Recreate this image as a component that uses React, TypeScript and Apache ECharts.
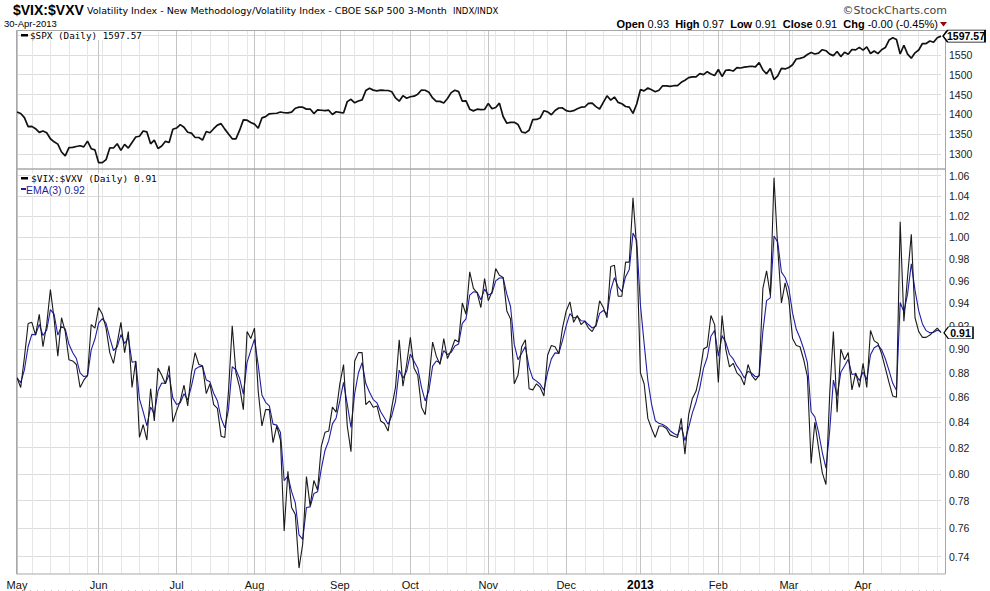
import { useEffect, useRef } from "react";
import * as echarts from "echarts";

// ---------- calendar ----------
const HOLIDAYS = [
  "2012-05-28", "2012-07-04", "2012-09-03", "2012-10-29", "2012-10-30", "2012-11-22",
  "2012-12-25", "2013-01-01", "2013-01-21", "2013-02-18", "2013-03-29",
];
const MONTH_LABELS = ["2013", "Feb", "Mar", "Apr", "May", "Jun", "Jul", "Aug", "Sep", "Oct", "Nov", "Dec"];

// ---------- $SPX daily close ----------
const spxMay = [1405.8, 1402.3, 1391.6, 1369.1, 1369.6, 1363.7, 1354.6, 1358.0, 1353.4, 1338.4, 1330.7, 1324.8, 1304.9, 1295.2, 1316.0, 1316.6, 1318.9, 1320.7, 1317.8, 1332.4, 1313.3, 1310.3];
const spxJun = [1278.0, 1278.2, 1285.5, 1315.1, 1315.0, 1325.7, 1308.9, 1324.2, 1314.9, 1329.1, 1342.8, 1344.8, 1358.0, 1355.7, 1325.5, 1335.0, 1313.7, 1320.0, 1331.9, 1329.0, 1362.2];
const spxJul = [1365.5, 1374.0, 1367.6, 1354.7, 1352.5, 1341.5, 1341.5, 1334.8, 1356.8, 1353.6, 1363.7, 1372.8, 1376.5, 1362.7, 1350.5, 1338.3, 1337.9, 1360.0, 1386.0, 1385.3, 1379.3];
const spxAug = [1375.3, 1365.0, 1391.0, 1394.2, 1401.4, 1402.2, 1402.8, 1405.9, 1404.1, 1403.9, 1405.5, 1415.5, 1418.2, 1418.1, 1413.2, 1413.5, 1402.1, 1411.1, 1410.4, 1409.3, 1410.5, 1399.5, 1406.6];
const spxSep = [1404.9, 1403.4, 1432.1, 1437.9, 1429.1, 1433.6, 1436.6, 1460.0, 1465.8, 1461.2, 1459.3, 1461.1, 1460.3, 1460.2, 1456.9, 1441.6, 1433.3, 1447.2, 1440.7];
const spxOct = [1444.5, 1445.8, 1451.0, 1461.4, 1460.9, 1455.9, 1441.5, 1432.6, 1432.8, 1428.6, 1440.1, 1454.9, 1460.9, 1457.3, 1433.2, 1433.8, 1413.1, 1408.8, 1413.0, 1411.9, 1412.2];
const spxNov = [1427.6, 1414.2, 1417.3, 1428.4, 1394.5, 1377.5, 1379.9, 1380.0, 1374.5, 1355.5, 1353.3, 1359.9, 1386.9, 1387.2, 1391.0, 1409.2, 1406.3, 1398.9, 1409.9, 1416.0, 1416.2];
const spxDec = [1409.5, 1407.1, 1409.3, 1413.9, 1418.1, 1418.6, 1427.8, 1428.5, 1419.5, 1413.6, 1430.4, 1446.8, 1435.8, 1443.7, 1430.2, 1426.7, 1419.8, 1418.1, 1402.4, 1426.2];
const spxJan = [1462.4, 1459.4, 1466.5, 1461.9, 1457.2, 1461.0, 1472.1, 1472.1, 1470.7, 1472.3, 1472.6, 1480.9, 1486.0, 1492.6, 1494.8, 1494.8, 1503.0, 1500.2, 1507.8, 1502.0, 1498.1];
const spxFeb = [1513.2, 1495.7, 1511.3, 1512.1, 1509.4, 1517.9, 1517.0, 1519.4, 1520.3, 1521.4, 1519.8, 1530.9, 1512.0, 1502.4, 1515.6, 1487.9, 1496.9, 1516.0, 1514.7];
const spxMar = [1518.2, 1525.2, 1539.8, 1541.5, 1544.3, 1551.2, 1556.2, 1552.5, 1554.5, 1563.2, 1560.7, 1552.1, 1548.3, 1558.7, 1545.8, 1556.9, 1551.7, 1563.8, 1562.9, 1569.2];
const spxApr = [1562.2, 1570.3, 1553.7, 1560.0, 1553.3, 1563.1, 1568.6, 1587.7, 1593.4, 1588.9, 1552.4, 1574.6, 1552.0, 1541.6, 1555.3, 1562.5, 1578.8, 1578.8, 1585.2, 1582.2, 1593.6, 1597.57];

// ---------- $VIX:$VXV daily ----------
const ratioMay = [0.876, 0.868, 0.893, 0.922, 0.923, 0.912, 0.930, 0.902, 0.921, 0.952, 0.926, 0.894, 0.927, 0.915, 0.891, 0.890, 0.887, 0.868, 0.874, 0.878, 0.921, 0.918];
const ratioJun = [0.936, 0.930, 0.918, 0.897, 0.888, 0.905, 0.923, 0.897, 0.915, 0.868, 0.890, 0.828, 0.838, 0.826, 0.867, 0.841, 0.884, 0.878, 0.871, 0.886, 0.840];
const ratioJul = [0.849, 0.857, 0.870, 0.853, 0.880, 0.897, 0.887, 0.886, 0.863, 0.871, 0.854, 0.851, 0.829, 0.828, 0.865, 0.920, 0.880, 0.868, 0.850, 0.915, 0.909];
const ratioAug = [0.918, 0.865, 0.837, 0.850, 0.850, 0.824, 0.837, 0.826, 0.758, 0.802, 0.775, 0.770, 0.732, 0.749, 0.798, 0.776, 0.795, 0.788, 0.821, 0.832, 0.833, 0.852, 0.848];
const ratioSep = [0.871, 0.887, 0.837, 0.817, 0.890, 0.897, 0.897, 0.854, 0.857, 0.852, 0.853, 0.841, 0.839, 0.833, 0.852, 0.868, 0.908, 0.869, 0.887];
const ratioOct = [0.910, 0.884, 0.878, 0.852, 0.846, 0.874, 0.906, 0.894, 0.887, 0.909, 0.892, 0.899, 0.908, 0.906, 0.940, 0.930, 0.968, 0.953, 0.949, 0.936, 0.962];
const ratioNov = [0.942, 0.950, 0.971, 0.965, 0.963, 0.933, 0.926, 0.871, 0.878, 0.902, 0.908, 0.867, 0.866, 0.871, 0.868, 0.861, 0.895, 0.903, 0.902, 0.896, 0.918];
const ratioDec = [0.933, 0.941, 0.923, 0.929, 0.921, 0.924, 0.918, 0.915, 0.921, 0.942, 0.936, 0.927, 0.973, 0.974, 0.946, 0.946, 0.977, 0.977, 1.038, 0.990];
const ratioJan = [0.880, 0.871, 0.843, 0.835, 0.828, 0.837, 0.837, 0.835, 0.830, 0.829, 0.828, 0.843, 0.815, 0.846, 0.859, 0.865, 0.879, 0.900, 0.902, 0.929, 0.921];
const ratioFeb = [0.872, 0.929, 0.900, 0.885, 0.888, 0.880, 0.877, 0.870, 0.887, 0.878, 0.874, 0.878, 0.953, 0.969, 0.947, 1.058, 0.990, 0.940, 0.958];
const ratioMar = [0.943, 0.909, 0.903, 0.902, 0.891, 0.877, 0.808, 0.840, 0.820, 0.801, 0.792, 0.862, 0.915, 0.848, 0.900, 0.891, 0.897, 0.866, 0.880, 0.868];
const ratioApr = [0.888, 0.868, 0.916, 0.907, 0.905, 0.896, 0.884, 0.872, 0.861, 0.860, 1.015, 0.924, 0.964, 1.003, 0.927, 0.915, 0.910, 0.910, 0.912, 0.915, 0.918, 0.914];

const SPX = [...spxMay, ...spxJun, ...spxJul, ...spxAug, ...spxSep, ...spxOct, ...spxNov, ...spxDec, ...spxJan, ...spxFeb, ...spxMar, ...spxApr];
const RATIO = [...ratioMay, ...ratioJun, ...ratioJul, ...ratioAug, ...ratioSep, ...ratioOct, ...ratioNov, ...ratioDec, ...ratioJan, ...ratioFeb, ...ratioMar, ...ratioApr];

// ---------- axis ticks ----------
const SPX_TICKS = [1300, 1350, 1400, 1450, 1500, 1550, 1600];
const SPX_LABELS = [1300, 1350, 1400, 1450, 1500, 1550];
const RATIO_TICKS = [0.74, 0.76, 0.78, 0.8, 0.82, 0.84, 0.86, 0.88, 0.9, 0.92, 0.94, 0.96, 0.98, 1.0, 1.02, 1.04, 1.06];

const SANS = '"Liberation Sans", Arial, sans-serif';
const VERD = '"DejaVu Sans", Verdana, sans-serif';
const MONO = '"DejaVu Sans Mono", monospace';
const EMA_COLOR = "#1f1fa3";

function tradingDays(): string[] {
  const out: string[] = [];
  const d = new Date(Date.UTC(2012, 4, 1));
  const end = Date.UTC(2013, 3, 30);
  while (d.getTime() <= end) {
    const wd = d.getUTCDay();
    const s = d.toISOString().slice(0, 10);
    if (wd !== 0 && wd !== 6 && HOLIDAYS.indexOf(s) < 0) out.push(s);
    d.setUTCDate(d.getUTCDate() + 1);
  }
  return out;
}

function ema(values: number[], n: number): number[] {
  const k = 2 / (n + 1);
  const out: number[] = [];
  let prev = values[0];
  values.forEach((v, i) => {
    prev = i === 0 ? v : v * k + prev * (1 - k);
    out.push(+prev.toFixed(4));
  });
  return out;
}

export default function App() {
  const ref = useRef<HTMLDivElement>(null);

  useEffect(() => {
    if (!ref.current) return;
    const chart = echarts.init(ref.current, undefined, { renderer: "svg" });

    const DATES = tradingDays();
    const EMA3 = ema(RATIO, 3);
    const monthStart = new Set<number>();
    const weekStart = new Set<number>();
    DATES.forEach((s, i) => {
      const d = new Date(s + "T00:00:00Z");
      if (i === 0) {
        monthStart.add(i);
        weekStart.add(i);
        return;
      }
      const p = new Date(DATES[i - 1] + "T00:00:00Z");
      if (d.getUTCMonth() !== p.getUTCMonth()) monthStart.add(i);
      if (d.getUTCDay() <= p.getUTCDay() || d.getTime() - p.getTime() >= 7 * 86400000) weekStart.add(i);
    });
    const weekFn = (i: number) => weekStart.has(i);
    const monthFn = (i: number) => monthStart.has(i);

    const catAxis = (gridIndex: number, fn: any, color: string, position: string, labels: boolean) => ({
      type: "category",
      gridIndex,
      data: DATES,
      boundaryGap: false,
      position,
      axisLine: { show: false },
      axisTick: { show: false },
      axisLabel: labels
        ? {
            show: true,
            interval: monthFn,
            margin: 5,
            fontSize: 11,
            fontFamily: SANS,
            color: "#111",
            formatter: (v: string) => {
              const m = new Date(v + "T00:00:00Z").getUTCMonth();
              return m === 0 ? "{b|" + MONTH_LABELS[0] + "}" : MONTH_LABELS[m];
            },
            rich: { b: { fontWeight: "bold", fontSize: 12, fontFamily: SANS, color: "#000" } },
          }
        : { show: false },
      splitLine: { show: true, interval: fn, lineStyle: { color, width: 1 } },
    });

    const lastI = RATIO.length - 1;
    const lastSpx = SPX[SPX.length - 1];
    const lastRatio = RATIO[lastI];
    const lastEma = EMA3[lastI];

    const boxLabel = {
      show: true,
      position: "inside",
      offset: [2, 0],
      fontSize: 10.5,
      fontWeight: "bold",
      fontFamily: SANS,
      color: "#000",
      formatter: (p: any) => Number(p.value).toFixed(2),
    };

    const option: any = {
      animation: false,
      backgroundColor: "#fff",
      grid: [
        { left: 17, right: 49, top: 30, height: 139 },
        { left: 17, right: 49, top: 169, height: 405 },
      ],
      xAxis: [
        catAxis(0, weekFn, "#e6e6e6", "bottom", false),
        catAxis(0, monthFn, "#c4c4c4", "top", false),
        catAxis(1, weekFn, "#e6e6e6", "top", false),
        catAxis(1, monthFn, "#c4c4c4", "bottom", true),
      ],
      yAxis: [
        {
          type: "value",
          gridIndex: 0,
          position: "right",
          min: 1262,
          max: 1613,
          axisLine: { show: false },
          axisTick: { show: false, customValues: SPX_TICKS },
          axisLabel: {
            customValues: SPX_LABELS,
            margin: 8,
            fontSize: 10.5,
            fontFamily: SANS,
            color: "#222",
            formatter: (v: number) => String(Math.round(v)),
          },
          splitLine: { show: true, lineStyle: { color: "#dcdcdc" } },
        },
        {
          type: "log",
          logBase: 10,
          gridIndex: 1,
          position: "right",
          min: 0.7279,
          max: 1.0667,
          axisLine: { show: false },
          axisTick: { show: false, customValues: RATIO_TICKS },
          axisLabel: {
            customValues: RATIO_TICKS,
            margin: 8,
            fontSize: 10.5,
            fontFamily: SANS,
            color: "#222",
            formatter: (v: number) => Number(v).toFixed(2),
          },
          splitLine: { show: true, lineStyle: { color: "#dcdcdc" } },
        },
      ],
      series: [
        {
          name: "$SPX",
          type: "line",
          xAxisIndex: 0,
          yAxisIndex: 0,
          data: SPX,
          symbol: "none",
          silent: true,
          lineStyle: { color: "#111", width: 1.7 },
          markPoint: {
            symbol: "path://M0,6 L5,0 L45,0 L45,12 L5,12 Z",
            symbolSize: [42, 12],
            symbolOffset: [23, 0],
            itemStyle: { color: "#fff", borderColor: "#000", borderWidth: 1 },
            label: boxLabel,
            data: [{ coord: [lastI, lastSpx], value: lastSpx }],
          },
        },
        {
          name: "EMA(3)",
          type: "line",
          xAxisIndex: 2,
          yAxisIndex: 1,
          data: EMA3,
          symbol: "none",
          silent: true,
          lineStyle: { color: EMA_COLOR, width: 1.1 },
        },
        {
          name: "$VIX:$VXV",
          type: "line",
          xAxisIndex: 2,
          yAxisIndex: 1,
          data: RATIO,
          symbol: "none",
          silent: true,
          lineStyle: { color: "#1a1a1a", width: 1.1 },
          markPoint: {
            symbol: "path://M0,6 L5,0 L33,0 L33,12 L5,12 Z",
            symbolSize: [29, 12],
            symbolOffset: [17.5, 0],
            itemStyle: { color: "#fff", borderColor: "#000", borderWidth: 1 },
            label: boxLabel,
            data: [{ coord: [lastI, lastRatio], value: lastRatio }],
          },
        },
      ],
      graphic: [
        {
          type: "rect",
          z: 5,
          silent: true,
          shape: { x: 16.5, y: 30.5, width: 929, height: 138.5 },
          style: { fill: "none", stroke: "#a8a8a8", lineWidth: 1 },
        },
        {
          type: "rect",
          z: 5,
          silent: true,
          shape: { x: 16.5, y: 169, width: 929, height: 405 },
          style: { fill: "none", stroke: "#a8a8a8", lineWidth: 1 },
        },
        {
          type: "line",
          z: 5,
          silent: true,
          shape: { x1: 16, y1: 590.5, x2: 946, y2: 590.5 },
          style: { stroke: "#c8c8c8", lineWidth: 1, lineDash: [1, 6] },
        },
        {
          type: "text",
          x: 13,
          y: 10,
          z: 10,
          style: { text: "$VIX:$VXV", font: "bold 14px " + SANS, fill: "#000", textVerticalAlign: "middle" },
        },
        {
          type: "text",
          x: 87,
          y: 10.5,
          z: 10,
          style: {
            text: "Volatility Index - New Methodology/Volatility Index - CBOE S&P 500 3-Month",
            font: "9.5px " + VERD,
            fill: "#000",
            textVerticalAlign: "middle",
          },
        },
        {
          type: "text",
          x: 453,
          y: 11,
          z: 10,
          style: { text: "INDX/INDX", font: "8.5px " + VERD, fill: "#000", textVerticalAlign: "middle" },
        },
        {
          type: "text",
          x: 4,
          y: 23,
          z: 10,
          style: { text: "30-Apr-2013", font: "9.5px " + SANS, fill: "#000", textVerticalAlign: "middle" },
        },
        {
          type: "text",
          x: 947,
          y: 10,
          z: 10,
          style: {
            text: "\u00A9StockCharts.com",
            font: "11px " + VERD,
            fill: "#444",
            textAlign: "right",
            textVerticalAlign: "middle",
          },
        },
        {
          type: "text",
          x: 938,
          y: 24,
          z: 10,
          style: {
            text: "{b|Open} 0.93  {b|High} 0.97  {b|Low} 0.91  {b|Close} 0.91  {b|Chg} -0.00 (-0.45%)",
            fontSize: 11,
            fontFamily: SANS,
            fill: "#000",
            textAlign: "right",
            textVerticalAlign: "middle",
            rich: { b: { fontWeight: "bold", fontSize: 11, fontFamily: SANS, fill: "#000" } },
          },
        },
        {
          type: "polygon",
          z: 10,
          silent: true,
          shape: { points: [[940, 22], [947, 22], [943.5, 26.5]] },
          style: { fill: "#8b0a0a" },
        },
        // legends
        { type: "rect", z: 10, shape: { x: 21, y: 34, width: 7, height: 2.5 }, style: { fill: "#000" } },
        {
          type: "text",
          x: 30,
          y: 35.5,
          z: 10,
          style: {
            text: "$SPX (Daily) " + lastSpx.toFixed(2),
            font: "9.3px " + MONO,
            fill: "#000",
            textVerticalAlign: "middle",
            backgroundColor: "#fff",
          },
        },
        { type: "rect", z: 10, shape: { x: 21, y: 177, width: 7, height: 2.5 }, style: { fill: "#000" } },
        {
          type: "text",
          x: 31,
          y: 178.5,
          z: 10,
          style: {
            text: "$VIX:$VXV (Daily) " + lastRatio.toFixed(2),
            font: "9.5px " + MONO,
            fill: "#000",
            textVerticalAlign: "middle",
            backgroundColor: "#fff",
          },
        },
        { type: "rect", z: 10, shape: { x: 21, y: 188, width: 5, height: 2 }, style: { fill: EMA_COLOR } },
        {
          type: "text",
          x: 26,
          y: 189.5,
          z: 10,
          style: {
            text: "EMA(3) " + lastEma.toFixed(2),
            font: "10.5px " + SANS,
            fill: EMA_COLOR,
            textVerticalAlign: "middle",
            backgroundColor: "#fff",
          },
        },
      ],
    };

    chart.setOption(option);
    return () => chart.dispose();
  }, []);

  return (
    <div
      ref={ref}
      style={{ position: "fixed", left: 0, top: 0, width: 990, height: 591, background: "#fff" }}
    />
  );
}
